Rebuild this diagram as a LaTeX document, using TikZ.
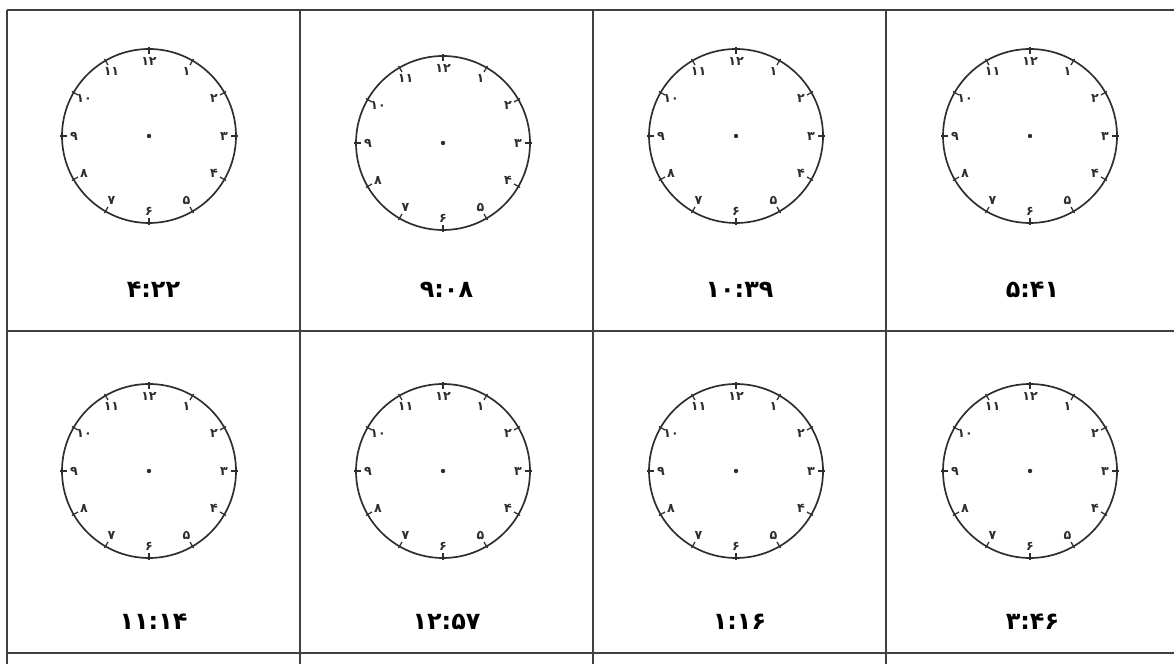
\documentclass[tikz,border=0pt]{standalone}
\usepackage{fontspec}
\newfontfamily\farsifont[Script=Arabic]{DejaVu Sans}
\usetikzlibrary{positioning}
\definecolor{gridgray}{HTML}{404040}
\definecolor{clockgray}{HTML}{2E2E2E}
\tikzset{
  cellline/.style={line width=1.4pt, gridgray},
  clockrim/.style={line width=1.2pt, clockgray},
  hourtick/.style={line width=0.9pt, clockgray},
  hourlabel/.style={font=\farsifont\bfseries\fontsize{9}{10}\selectfont, inner sep=0pt, clockgray},
  timelabel/.style={font=\farsifont\bfseries\fontsize{17}{18}\selectfont, inner sep=1pt},
}

\begin{document}
\begin{tikzpicture}[x=0.025cm, y=0.025cm]
  \useasboundingbox (0,0) rectangle (1174,664);

  % Jadval
  \foreach \ty in {654,333,11}
    \draw[cellline] (7,\ty) -- (1174,\ty);
  \foreach \tx in {7,300,593,886}
    \draw[cellline] (\tx,654) -- (\tx,0);

  % Saat-ha
  \foreach \cx/\cy/\n in {149/528/A, 443/521/B, 736/528/C, 1030/528/D,
                          149/193/E, 443/193/F, 736/193/G, 1030/193/H} {
    \coordinate (clock\n) at (\cx,\cy);
    \begin{scope}[shift={(clock\n)}]
      \draw[clockrim] (0,0) circle (87);
      \fill[clockgray] (0,0) circle (2.2);
      \foreach \h/\lab in {1/۱, 2/۲, 3/۳, 4/۴, 5/۵, 6/۶, 7/۷, 8/۸, 9/۹, 10/۱۰, 11/۱۱, 12/۱۲} {
        \draw[hourtick] (90-30*\h:82) -- (90-30*\h:89);
        \node[hourlabel] at (90-30*\h:75) {\lab};
      }
    \end{scope}
  }

  % Zaman-ha
  \node[timelabel] (timeA) at (153.5,374) {۴:۲۲};
  \node[timelabel] (timeB) at (446.5,374) {۹:۰۸};
  \node[timelabel] (timeC) at (739.5,374) {۱۰:۳۹};
  \node[timelabel] (timeD) at (1032.5,374) {۵:۴۱};
  \node[timelabel] (timeE) at (153.5,42) {۱۱:۱۴};
  \node[timelabel] (timeF) at (446.5,42) {۱۲:۵۷};
  \node[timelabel] (timeG) at (739.5,42) {۱:۱۶};
  \node[timelabel] (timeH) at (1032.5,42) {۳:۴۶};
\end{tikzpicture}
\end{document}
